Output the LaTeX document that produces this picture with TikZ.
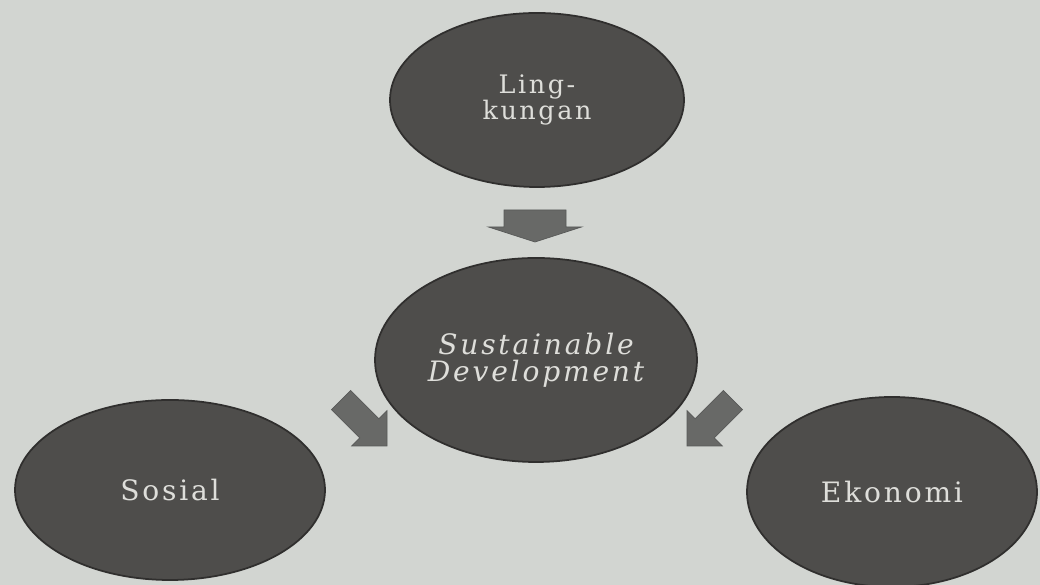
\documentclass[tikz,border=0pt]{standalone}
\usepackage{fontspec}
\usetikzlibrary{shapes.geometric}
\newfontfamily\ovalfont[LetterSpace=10]{DejaVu Serif}
\definecolor{paper}{RGB}{210,213,209}
\definecolor{ovalgrey}{RGB}{78,77,75}
\definecolor{ovalrim}{RGB}{48,47,46}
\definecolor{arrowgrey}{RGB}{104,105,103}
\definecolor{textgrey}{RGB}{222,222,218}
\tikzset{
  oval/.style={ellipse, draw=ovalrim, line width=1pt, fill=ovalgrey, inner sep=0pt,
    text=textgrey, align=center, font=\ovalfont\fontsize{16}{16}\selectfont},
  blockarr/.style={fill=arrowgrey, draw=arrowgrey!85!black, line width=0.4pt}
}

\begin{document}
\begin{tikzpicture}
  \useasboundingbox (0,0) rectangle (20.8,11.7);
  \fill[paper] (0,0) rectangle (20.8,11.7);

  % the four ovals
  \node[oval, minimum width=5.88cm, minimum height=3.48cm,
    font=\ovalfont\fontsize{14.5}{12.5}\selectfont] (lingkungan) at (10.74,9.70) {Ling-\\kungan};
  \node[oval, minimum width=6.44cm, minimum height=4.08cm,
    font=\ovalfont\fontsize{16}{15.5}\selectfont\itshape] (sustdev) at (10.72,4.50) {Sustainable\\Development};
  \node[oval, minimum width=6.20cm, minimum height=3.60cm] (sosial) at (3.40,1.90) {Sosial};
  \node[oval, minimum width=5.80cm, minimum height=3.80cm] (ekonomi) at (17.84,1.86) {Ekonomi};

  % block arrow under Lingkungan
  \begin{scope}[shift={(10.70,6.86)}, rotate=-90]
    \draw[blockarr] (0,0) -- (-0.30,0.93) -- (-0.30,0.62) -- (-0.64,0.62)
      -- (-0.64,-0.62) -- (-0.30,-0.62) -- (-0.30,-0.93) -- cycle;
  \end{scope}

  % block arrows beside the centre oval
  \foreach \ax/\ay/\ang in {7.74/2.78/-45, 13.74/2.78/-135} {
    \begin{scope}[shift={(\ax,\ay)}, rotate=\ang]
      \draw[blockarr] (0,0) -- (-0.50,0.50) -- (-0.50,0.27) -- (-1.30,0.27)
        -- (-1.30,-0.27) -- (-0.50,-0.27) -- (-0.50,-0.50) -- cycle;
    \end{scope}
  }
\end{tikzpicture}
\end{document}
